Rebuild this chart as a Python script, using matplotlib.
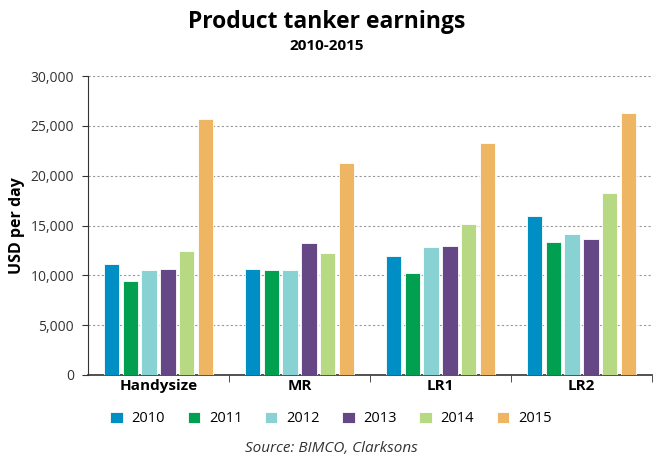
import matplotlib
matplotlib.use("Agg")
import matplotlib.pyplot as plt
import numpy as np

categories = ["Handysize", "MR", "LR1", "LR2"]
years = ["2010", "2011", "2012", "2013", "2014", "2015"]
values = {
    "2010": [11100, 10600, 11950, 15950],
    "2011": [9400, 10550, 10200, 13350],
    "2012": [10500, 10500, 12850, 14100],
    "2013": [10600, 13200, 12950, 13600],
    "2014": [12400, 12250, 15150, 18250],
    "2015": [25650, 21250, 23250, 26300],
}
colors = ["#008fc5", "#00a050", "#88d2d4", "#664785", "#b8d984", "#eeb562"]

plt.rcParams['font.family'] = ['Open Sans', 'DejaVu Sans']

fig = plt.figure(figsize=(6.54, 4.55), dpi=100)
ax = fig.add_axes([88/654, 1-375/455, 564/654, 299/455])

x = np.arange(len(categories))
step = 0.1335
width = 0.108
for i, y in enumerate(years):
    ax.bar(x + (i - 2.5) * step, values[y], width=width, color=colors[i],
           edgecolor="white", linewidth=0.6, label=y, zorder=3)

ax.set_xlim(-0.5, 3.5)
ax.set_ylim(0, 30000)
ax.set_yticks(np.arange(0, 30001, 5000))
ax.set_yticklabels([f"{v:,}" for v in range(0, 30001, 5000)], fontsize=10, color="#333333")
ax.yaxis.grid(True, linestyle=(0, (2, 2)), color="#999999", linewidth=0.8, zorder=0)
for spine in ["top", "right"]:
    ax.spines[spine].set_visible(False)
ax.spines["left"].set_color("#333333")
ax.spines["bottom"].set_color("#333333")
ax.spines["bottom"].set_linewidth(1.2)
ax.tick_params(axis="y", length=4, color="#333333", pad=6)

ax.set_xticks(x)
ax.set_xticklabels(categories, fontsize=11, fontweight="bold")
ax.tick_params(axis="x", length=0, pad=3)
ax.set_xticks([0.5, 1.5, 2.5, 3.5], minor=True)
ax.tick_params(axis="x", which="minor", length=5, color="#333333")

ax.set_ylabel("USD per day", fontsize=11.5, fontweight="bold")
ax.yaxis.set_label_coords(-(88 - 25) / 564, 0.5)

fig.text(0.5, 1 - 22/455, "Product tanker earnings", ha="center", va="center",
         fontsize=16.5, fontweight="bold")
fig.text(0.5, 1 - 46/455, "2010-2015", ha="center", va="center",
         fontsize=11, fontweight="bold")

handles, labels = ax.get_legend_handles_labels()
fig.legend(handles, labels, loc="center", bbox_to_anchor=(331/654, 1 - 419/455),
           ncol=6, frameon=False, fontsize=10.5, handlelength=0.85, handleheight=0.85,
           columnspacing=1.55, handletextpad=0.6)

fig.text(331/654, 1 - 448/455, "Source: BIMCO, Clarksons", ha="center", va="center",
         fontsize=11, style="italic", color="#333333")

fig.savefig("out.png", dpi=100)
